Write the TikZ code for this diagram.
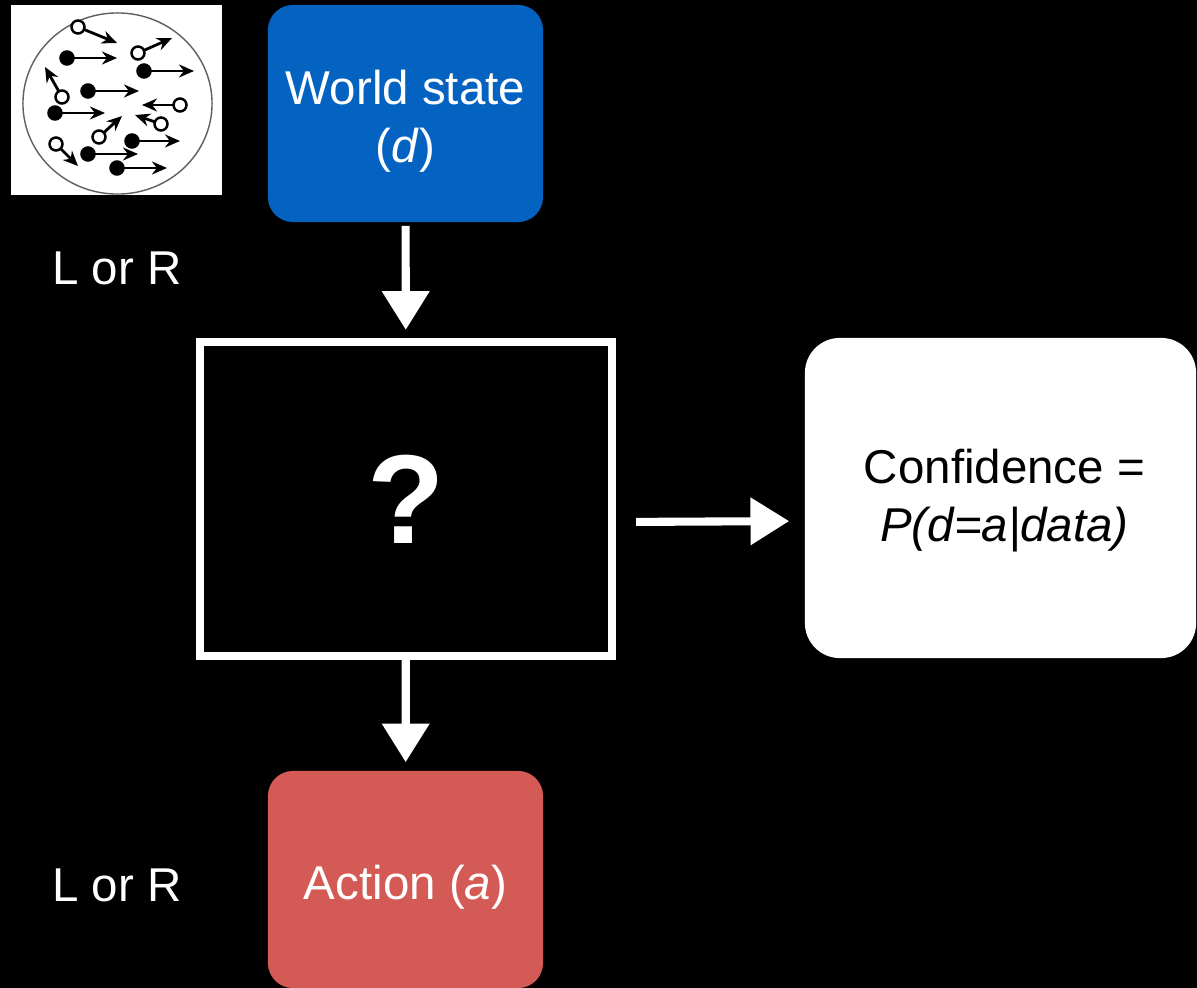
\documentclass[tikz,border=0pt]{standalone}
\usepackage{fontspec}
\setmainfont{Liberation Sans}
\usepackage{tikz}
\usetikzlibrary{arrows.meta,positioning}
\definecolor{worldblue}{RGB}{4, 99, 193}
\definecolor{actionred}{RGB}{212, 90, 85}
\definecolor{rimgray}{RGB}{95, 95, 95}
\tikzstyle{every node}=[font=\fontsize{13.5}{16.5}\selectfont]
\tikzstyle{statebox}=[rectangle,rounded corners=0.25cm,minimum width=2.75cm,minimum height=2.17cm]
\tikzstyle{boxtext}=[text=white,align=center]
\tikzstyle{modelbox}=[rectangle,draw=white,line width=2.3pt,minimum width=4.12cm,minimum height=3.14cm,text=white]
\tikzstyle{confbox}=[rectangle,fill=white,rounded corners=0.35cm,minimum width=3.91cm,minimum height=3.2cm]
\tikzstyle{flow}=[draw=white,line width=2.3pt,-{Triangle[width=13pt,length=11pt]}]
\tikzstyle{dotarrow}=[line width=0.8pt,-{Stealth[length=1.5mm,width=1.3mm]}]
\newcommand{\movingdot}[5]{
  \draw[dotarrow] (#1, #2) -- (#3, #4);
  \draw[black,fill=#5,line width=0.7pt] (#1, #2) circle (0.65mm);
}

\begin{document}
\begin{tikzpicture}[x=0.01cm,y=-0.01cm]
\useasboundingbox (0,0) rectangle (1197,988);
\fill[black] (0,0) rectangle (1197,988);
% random dot stimulus
\fill[white] (11,5) rectangle (222,195);
\draw[rimgray,line width=0.4pt] (117.5,103.5) ellipse [x radius=0.945cm, y radius=0.905cm];
\movingdot{78}{27}{117}{43}{white};
\movingdot{138}{53}{172}{38}{white};
\movingdot{67}{58}{117}{58}{black};
\movingdot{144}{71}{194}{71}{black};
\movingdot{62}{97}{45}{67}{white};
\movingdot{88}{91}{139}{91}{black};
\movingdot{180}{105}{142}{105}{white};
\movingdot{55}{113}{105}{113}{black};
\movingdot{161}{124}{135}{115}{white};
\movingdot{99}{137}{122}{116}{white};
\movingdot{132}{141}{180}{141}{black};
\movingdot{56}{144}{78}{166}{white};
\movingdot{88}{154}{138}{154}{black};
\movingdot{117}{168}{167}{168}{black};
% boxes
  \node[statebox,fill=worldblue] (world) at (405.5,113.5) {};
  \node[boxtext] (worldtext) at ([yshift=-0.08cm]world.center) {World state\\(\textit{d})};
  \node[modelbox,font=\bfseries\fontsize{36}{40}\selectfont] (model) at (406,499) {?};
  \node[confbox] (conf) at (1000.5,498) {};
  \node[align=center] (conftext) at ([xshift=0.04cm,yshift=-0.03cm]conf.center) {Confidence =\\\textit{P(d=a|data)}};
  \node[statebox,fill=actionred] (action) at (405.5,879.5) {};
  \node[boxtext] (actiontext) at ([yshift=-0.08cm]action.center) {Action (\textit{a})};
  \node[text=white] (lrtop) at (117,268) {L or R};
  \node[text=white] (lrbottom) at (117,885) {L or R};
% arrows
  \draw[flow,shorten <=0.03cm,shorten >=0.08cm] (world) -- (model);
  \draw[flow,shorten <=0.2cm,shorten >=0.15cm] ([yshift=-0.23cm]model.east) -- ([yshift=-0.23cm]conf.west);
  \draw[flow,shorten >=0.08cm] (model) -- (action);
\end{tikzpicture}
\end{document}
